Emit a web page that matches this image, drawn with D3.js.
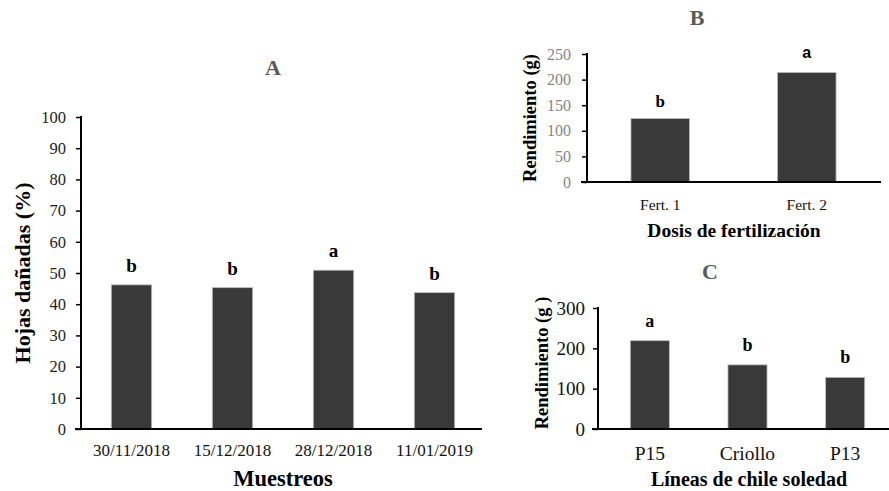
<!DOCTYPE html>
<html>
<head>
<meta charset="utf-8">
<script src="https://cdn.jsdelivr.net/npm/d3@7"></script>
<style>
  body { margin: 0; background: #fff; }
  svg { display: block; }
  text { font-family: "Liberation Serif", "Times New Roman", serif; }
</style>
</head>
<body>
<svg id="canvas" width="889" height="491"></svg>
<script>
// chart A: hojas dañadas por muestreo
var fechasA = ['30/11/2018', '15/12/2018', '28/12/2018', '11/01/2019'];
var valoresA = [46.2, 45.3, 50.9, 43.7];
var letrasA = ['b', 'b', 'a', 'b'];
var ticksA = [0, 10, 20, 30, 40, 50, 60, 70, 80, 90, 100];

// chart B: rendimiento por dosis
var dosisB = ['Fert. 1', 'Fert. 2'];
var valoresB = [124, 214];
var letrasB = ['b', 'a'];
var ticksB = [0, 50, 100, 150, 200, 250];

// chart C: rendimiento por linea
var lineasC = ['P15', 'Criollo', 'P13'];
var valoresC = [219, 159, 128];
var letrasC = ['a', 'b', 'b'];
var ticksC = [0, 100, 200, 300];

var svg = d3.select('#canvas');
var barFill = '#3a3939';
var titleGray = '#595959';
var sansFont = '"Liberation Sans", Arial, sans-serif';
var serifFont = '"Liberation Serif", "Times New Roman", serif';

// draws one panel; o holds layout for the panel
var drawPanel = function (o) {
  var g = svg.append('g');

  var x = d3.scaleBand()
    .domain(o.cats)
    .range([o.x0, o.x1])
    .paddingInner(0.6)
    .paddingOuter(0.3);

  var y = d3.scaleLinear()
    .domain([0, o.ticks[o.ticks.length - 1]])
    .range([o.y0, o.y1]);

  // bars
  g.selectAll('rect.bar')
    .data(o.vals)
    .enter()
    .append('rect')
    .attr('class', 'bar')
    .attr('x', function (d, i) { return x(o.cats[i]); })
    .attr('y', function (d) { return y(d); })
    .attr('width', x.bandwidth())
    .attr('height', function (d) { return y(0) - y(d); })
    .attr('fill', barFill)
    .attr('stroke', '#bdbdbd')
    .attr('stroke-width', 0.8);

  // significance letters
  g.selectAll('text.letra')
    .data(o.vals)
    .enter()
    .append('text')
    .attr('class', 'letra')
    .attr('x', function (d, i) { return x(o.cats[i]) + x.bandwidth() / 2; })
    .attr('y', function (d, i) {
      var sans = o.sansA && o.letters[i] == 'a';
      return y(d) - (sans ? o.letterGap + 2 : o.letterGap);
    })
    .attr('text-anchor', 'middle')
    .attr('font-weight', 'bold')
    .attr('font-size', function (d, i) {
      return o.sansA && o.letters[i] == 'a' ? o.letterSize - 1 : o.letterSize;
    })
    .style('font-family', function (d, i) {
      return o.sansA && o.letters[i] == 'a' ? sansFont : serifFont;
    })
    .text(function (d, i) { return o.letters[i]; });

  // y axis
  var yAxis = d3.axisLeft(y)
    .tickValues(o.ticks)
    .tickSize(5)
    .tickSizeOuter(0)
    .tickPadding(o.tickPad);
  var ya = g.append('g')
    .attr('transform', 'translate(' + o.axisX + ',0)')
    .call(yAxis);
  ya.select('.domain').attr('stroke', '#000').attr('stroke-width', 2)
    .attr('d', 'M0,' + (o.y1 - 1) + 'V' + (o.y0 + 1));
  ya.selectAll('.tick line').attr('stroke', '#000').attr('stroke-width', 1.5);
  ya.selectAll('.tick text')
    .attr('font-size', o.tickSize)
    .attr('fill', o.tickColor)
    .style('font-family', serifFont);

  // x baseline + category labels
  g.append('line')
    .attr('x1', o.axisX - 6).attr('x2', o.lineEnd)
    .attr('y1', y(0)).attr('y2', y(0))
    .attr('stroke', '#000').attr('stroke-width', 2);

  g.selectAll('text.cat')
    .data(o.cats)
    .enter()
    .append('text')
    .attr('class', 'cat')
    .attr('x', function (d) { return x(d) + x.bandwidth() / 2; })
    .attr('y', o.catY)
    .attr('text-anchor', 'middle')
    .attr('font-size', o.catSize)
    .attr('fill', '#111')
    .text(function (d) { return d; });

  // titles
  g.append('text')
    .attr('x', o.titleX).attr('y', o.titleY)
    .attr('text-anchor', 'middle')
    .attr('font-weight', 'bold')
    .attr('font-size', 22)
    .attr('fill', titleGray)
    .text(o.title);

  g.append('text')
    .attr('x', o.xTitleX).attr('y', o.xTitleY)
    .attr('text-anchor', 'middle')
    .attr('font-weight', 'bold')
    .attr('font-size', o.xTitleSize)
    .text(o.xTitle);

  g.append('text')
    .attr('transform', 'translate(' + o.yTitleX + ',' + o.yTitleY + ') rotate(-90)')
    .attr('text-anchor', 'middle')
    .attr('font-weight', 'bold')
    .attr('font-size', o.yTitleSize)
    .text(o.yTitle);
};

drawPanel({
  cats: fechasA, vals: valoresA, letters: letrasA, ticks: ticksA,
  x0: 81, x1: 485, y0: 429, y1: 117, axisX: 81, lineEnd: 482,
  letterGap: 13, letterSize: 19, tickPad: 10, tickSize: 16.5, tickColor: '#222',
  catY: 456, catSize: 17,
  title: 'A', titleX: 273, titleY: 75,
  xTitle: 'Muestreos', xTitleX: 283, xTitleY: 486, xTitleSize: 22.5,
  yTitle: 'Hojas dañadas (%)', yTitleX: 30, yTitleY: 273, yTitleSize: 22
});

drawPanel({
  cats: dosisB, vals: valoresB, letters: letrasB, ticks: ticksB,
  x0: 587, x1: 880, y0: 182, y1: 54, axisX: 587, lineEnd: 881,
  letterGap: 12, letterSize: 17, tickPad: 11, tickSize: 16, tickColor: '#858585',
  sansA: true,
  catY: 210, catSize: 15.5,
  title: 'B', titleX: 697, titleY: 25,
  xTitle: 'Dosis de fertilización', xTitleX: 734, xTitleY: 237, xTitleSize: 19.5,
  yTitle: 'Rendimiento (g)', yTitleX: 536, yTitleY: 118, yTitleSize: 18.5
});

drawPanel({
  cats: lineasC, vals: valoresC, letters: letrasC, ticks: ticksC,
  x0: 601, x1: 894, y0: 429, y1: 308, axisX: 598, lineEnd: 889,
  letterGap: 14, letterSize: 18, tickPad: 8, tickSize: 19, tickColor: '#111',
  catY: 460, catSize: 19.5,
  title: 'C', titleX: 710, titleY: 279,
  xTitle: 'Líneas de chile soledad', xTitleX: 749, xTitleY: 486, xTitleSize: 20,
  yTitle: 'Rendimiento (g )', yTitleX: 548, yTitleY: 363, yTitleSize: 18.5
});
</script>
</body>
</html>
